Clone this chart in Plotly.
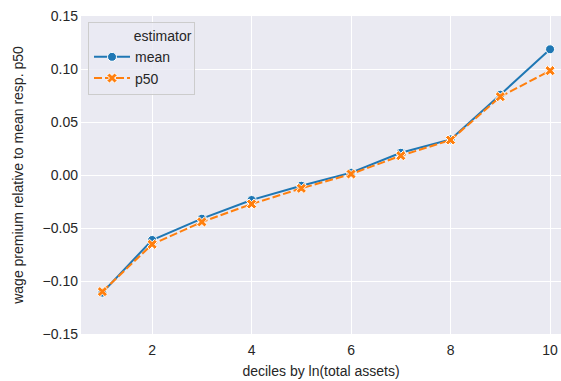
import plotly.graph_objects as go

deciles = [1, 2, 3, 4, 5, 6, 7, 8, 9, 10]
mean_vals = [-0.111, -0.0613, -0.0412, -0.0236, -0.0101, 0.0022, 0.0210, 0.0336, 0.0758, 0.1186]
p50_vals = [-0.110, -0.0654, -0.0443, -0.0274, -0.0126, 0.0009, 0.0182, 0.0330, 0.0739, 0.0984]
y_ticks = [-0.15, -0.10, -0.05, 0.00, 0.05, 0.10, 0.15]
x_ticks = [2, 4, 6, 8, 10]

BLUE = "#1f77b4"
ORANGE = "#ff7f0e"
FONT = "Liberation Sans, Arial, sans-serif"

fig = go.Figure()
fig.add_trace(go.Scatter(
    x=deciles, y=mean_vals, name="mean", mode="lines+markers",
    line=dict(color=BLUE, width=2),
    marker=dict(symbol="circle", size=9, color=BLUE, line=dict(color="white", width=1)),
))
fig.add_trace(go.Scatter(
    x=deciles, y=p50_vals, name="p50", mode="lines+markers",
    line=dict(color=ORANGE, width=2, dash="8px,3px"),
    marker=dict(symbol="x", size=9, color=ORANGE, line=dict(color="white", width=1)),
))

fig.update_layout(
    width=561, height=381,
    margin=dict(l=81, r=0, t=16, b=47),
    paper_bgcolor="white",
    plot_bgcolor="#EAEAF2",
    font=dict(family=FONT, size=14, color="#262626"),
    legend=dict(
        title=dict(text="\u00a0" * 11 + "estimator", font=dict(size=14)),
        x=0.0146, y=0.981, xanchor="left", yanchor="top",
        bgcolor="rgba(234,234,242,0.8)", bordercolor="#cccccc", borderwidth=1,
        font=dict(size=14), itemwidth=36,
    ),
    xaxis=dict(
        range=[0.57, 10.22], tickvals=x_ticks, showgrid=True, gridcolor="white",
        gridwidth=1, zeroline=False, showline=False, ticks="", automargin=False,
        ticklabelstandoff=6,
        title=dict(text="deciles by ln(total assets)", font=dict(size=14), standoff=9),
    ),
    yaxis=dict(
        range=[-0.15, 0.15], tickvals=y_ticks, tickformat=".2f", showgrid=True,
        gridcolor="white", gridwidth=1, zeroline=False, showline=False, ticks="",
        automargin=False, ticklabelstandoff=2,
        title=dict(text="wage premium relative to mean resp. p50", font=dict(size=14), standoff=15),
    ),
)

fig.write_html("out.html")
